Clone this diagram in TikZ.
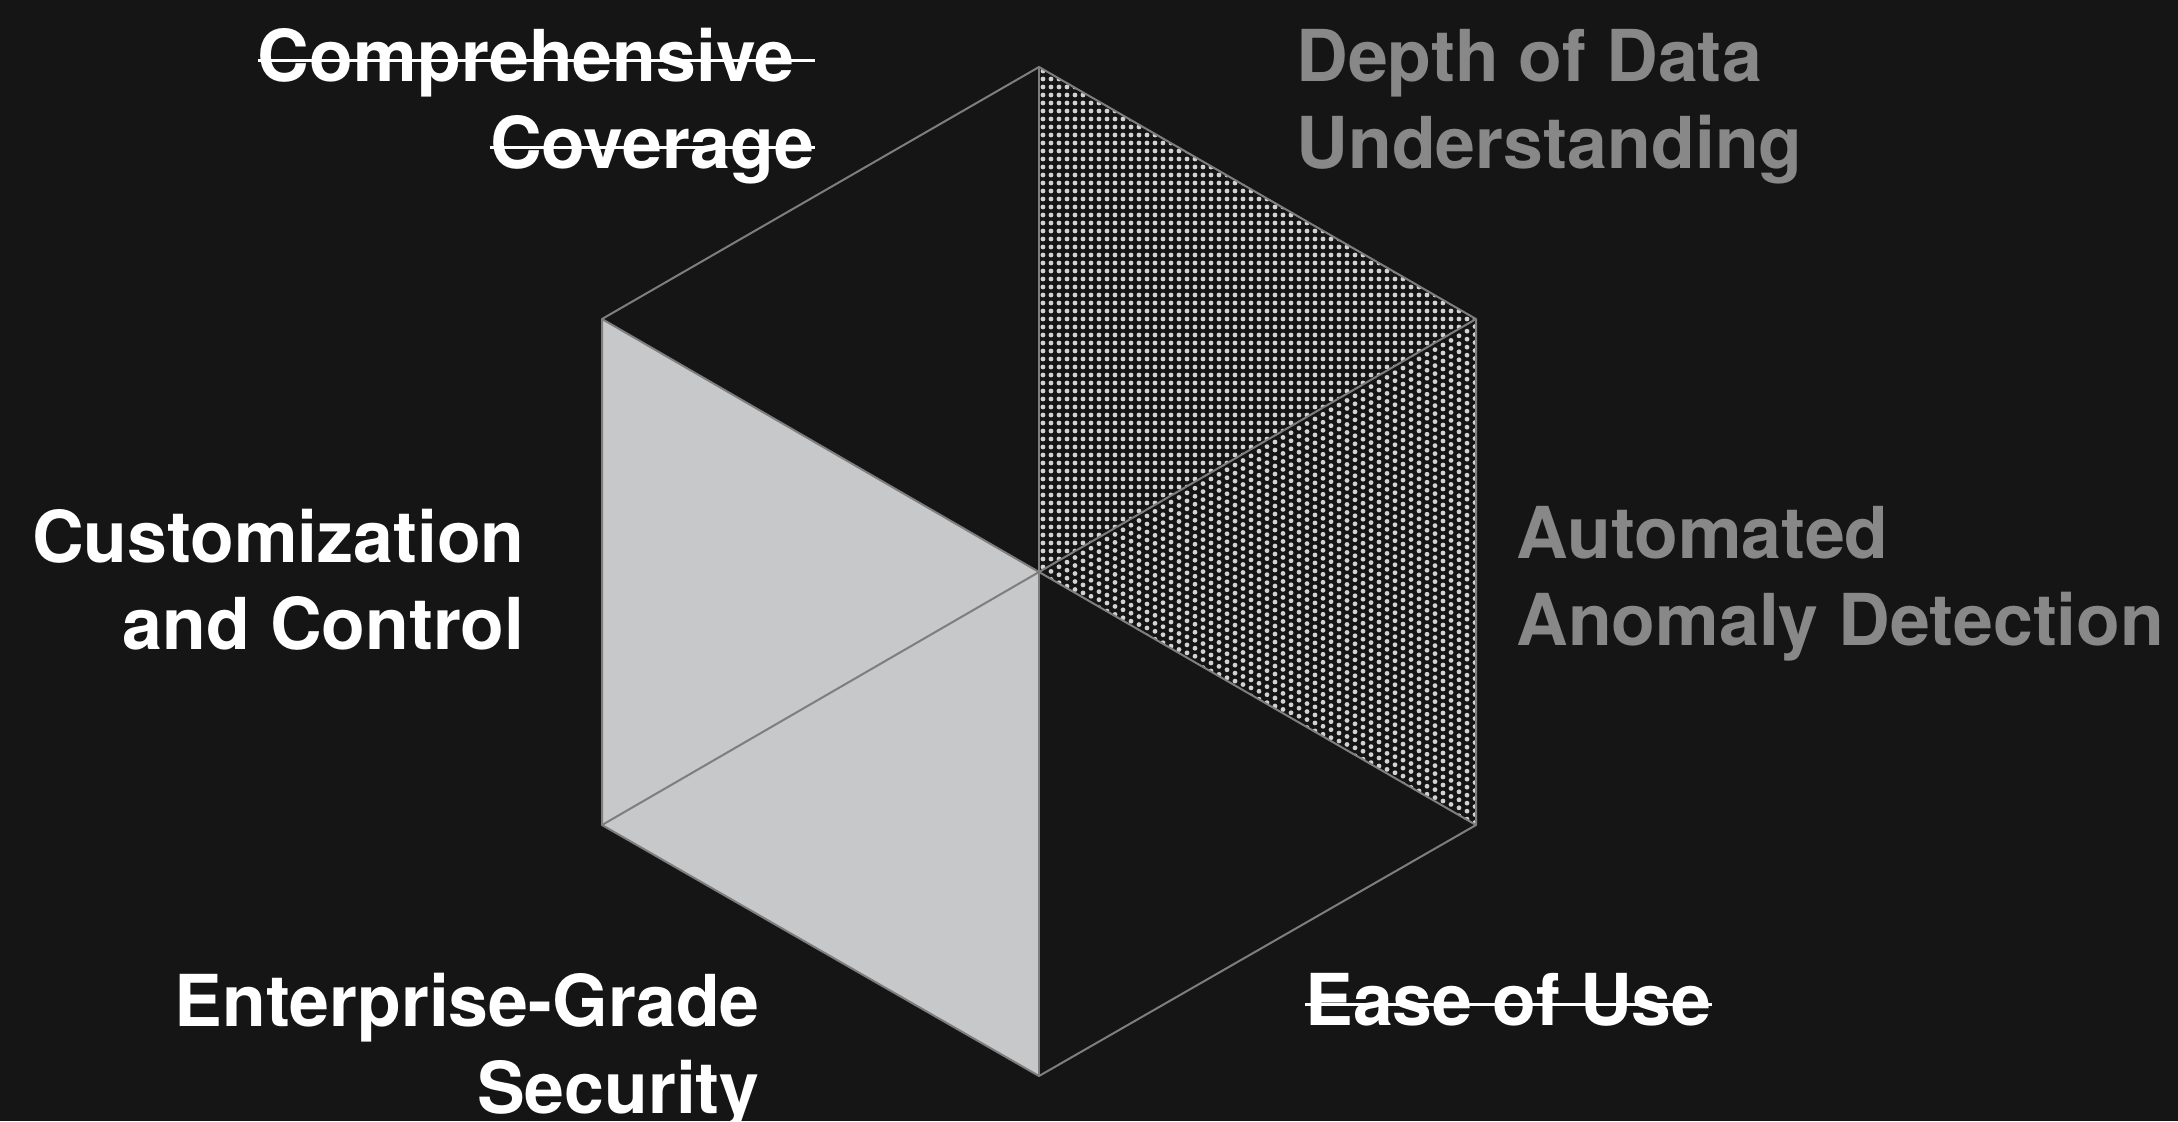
\documentclass[tikz,border=0pt]{standalone}
\usepackage{fontspec}
\setmainfont{TeX Gyre Heros}
\usetikzlibrary{calc}
\definecolor{bgdark}{HTML}{151515}
\definecolor{edgegray}{HTML}{7E7E7E}
\definecolor{facelight}{HTML}{C7C8CA}
\definecolor{dotgray}{HTML}{D2D2D2}
\definecolor{textgray}{HTML}{888888}

\begin{document}
\begin{tikzpicture}[
    x=0.5pt, y=-0.5pt,
    edge line/.style={edgegray, line width=1pt, line join=round},
    light face/.style={fill=facelight},
    dot/.style={fill=dotgray},
    label white/.style={text=white, inner sep=0pt, font=\bfseries\fontsize{35.8pt}{43.5pt}\selectfont},
    label gray/.style={label white, text=textgray},
    strike line/.style={white, line width=1.5pt}
    ]

    % canvas
    \fill[bgdark] (0,0) rectangle (2178,1121);
    \useasboundingbox (0,0) rectangle (2178,1121);

    % define hexagon
    \coordinate (ctr) at (1039,572);
    \coordinate (top) at (1039,67);
    \coordinate (ur) at (1476,319);
    \coordinate (lr) at (1476,825);
    \coordinate (bot) at (1039,1076);
    \coordinate (ll) at (602,825);
    \coordinate (ul) at (602,319);

    % faces
    \fill[light face] (ul) -- (ctr) -- (bot) -- (ll) -- cycle;
    \begin{scope}
        \clip (top) -- (ctr) -- (ur) -- cycle;
        \foreach \i in {0,...,54}
            \foreach \j in {0,...,63}
                \fill[dot] ({1043+8*\i},{71+8*\j}) circle[radius=1.2pt];
    \end{scope}
    \begin{scope}
        \clip (ctr) -- (ur) -- (lr) -- cycle;
        \foreach \i in {0,...,54}
            \foreach \j in {0,...,64}
                \fill[dot] ({1043+8*\i},{576-4.62*\i+8*\j}) circle[radius=1.2pt];
    \end{scope}

    % edges
    \draw[edge line] (top) -- (ur) -- (lr) -- (bot) -- (ll) -- (ul) -- cycle;
    \foreach \v in {top,ur,lr,bot,ll,ul}
        \draw[edge line] (ctr) -- (\v);

    % labels, left side
    \node[label white, anchor=base east] (comp1) at (815,81) {Comprehensive\hspace*{0.278em}};
    \node[label white, anchor=base east] (comp2) at (815,168) {Coverage};
    \draw[strike line] ($(comp1.base west)+(0,-21)$) -- ($(comp1.base east)+(0,-21)$);
    \draw[strike line] ($(comp2.base west)+(0,-21)$) -- ($(comp2.base east)+(0,-21)$);
    \node[label white, anchor=base east] (cust1) at (525,562) {Customization};
    \node[label white, anchor=base east] (cust2) at (525,649) {and Control};
    \node[label white, anchor=base east] (ent1) at (760,1026) {Enterprise-Grade};
    \node[label white, anchor=base east] (ent2) at (760,1113) {Security};

    % labels, right side
    \node[label gray, anchor=base west] (depth1) at (1296,81) {Depth of Data};
    \node[label gray, anchor=base west] (depth2) at (1296,168) {Understanding};
    \node[label gray, anchor=base west] (auto1) at (1516,558) {Automated};
    \node[label gray, anchor=base west] (auto2) at (1516,645) {Anomaly Detection};
    \node[label white, anchor=base west] (ease) at (1305,1025) {Ease of Use};
    \draw[strike line] ($(ease.base west)+(0,-21)$) -- ($(ease.base east)+(0,-21)$);

\end{tikzpicture}
\end{document}
